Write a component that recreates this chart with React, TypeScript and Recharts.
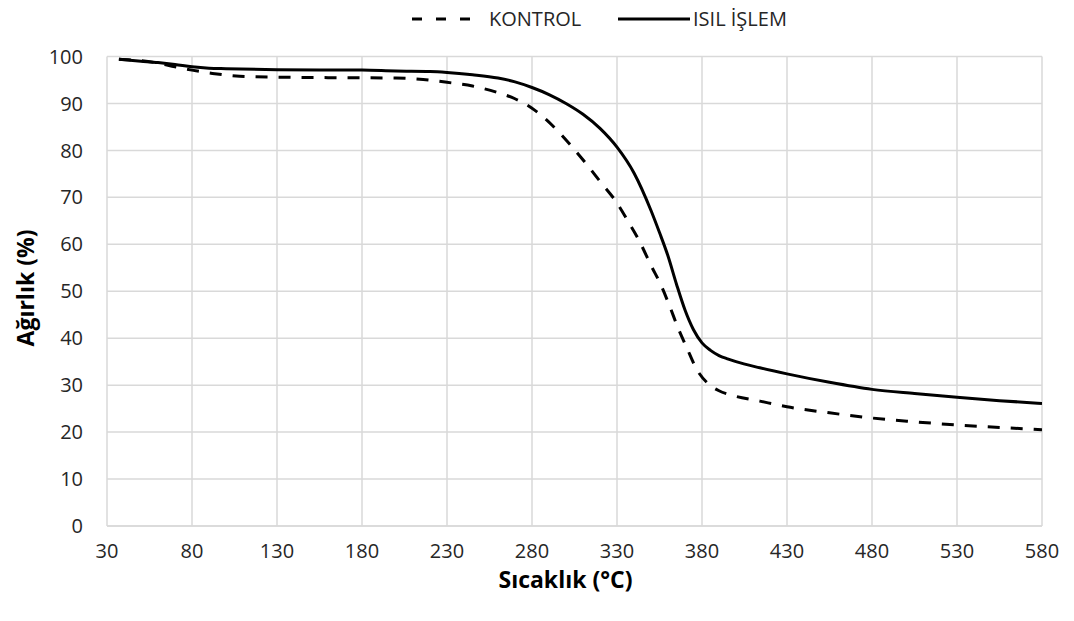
import React from 'react';
import { LineChart, Line, XAxis, YAxis, CartesianGrid, Legend, Label } from 'recharts';

const xTicks = [30, 80, 130, 180, 230, 280, 330, 380, 430, 480, 530, 580];
const yTicks = [0, 10, 20, 30, 40, 50, 60, 70, 80, 90, 100];

const kontrolTemp = [37, 50, 60, 70, 80, 92, 108, 130, 160, 200, 216, 230, 245, 259, 270, 280, 292, 302, 312, 320, 330, 336, 343, 350, 356, 361, 366, 371, 377, 384, 390, 397, 414, 430, 455, 480, 505, 530, 555, 580];
const kontrolWeight = [99.4, 99.1, 98.6, 97.8, 97.1, 96.4, 95.8, 95.6, 95.5, 95.4, 95.1, 94.5, 93.7, 92.4, 91.0, 89.0, 85.3, 81.4, 77.1, 73.4, 68.8, 65.2, 60.8, 55.5, 51.2, 46.8, 42.1, 38.0, 33.3, 30.2, 28.8, 27.9, 26.6, 25.4, 24.1, 23.0, 22.2, 21.5, 21.0, 20.5];

const isilTemp = [37, 50, 60, 70, 80, 90, 100, 130, 180, 200, 220, 230, 245, 260, 270, 280, 290, 300, 310, 320, 330, 340, 350, 355, 360, 365, 370, 375, 380, 385, 390, 395, 400, 414, 430, 455, 480, 505, 530, 555, 580];
const isilWeight = [99.4, 99.0, 98.7, 98.3, 97.8, 97.5, 97.4, 97.2, 97.1, 96.9, 96.8, 96.6, 96.1, 95.4, 94.6, 93.4, 91.9, 90.0, 87.7, 84.7, 80.7, 75.2, 67.2, 62.5, 57.5, 51.5, 46.0, 41.8, 39.0, 37.4, 36.3, 35.6, 35.0, 33.7, 32.4, 30.6, 29.1, 28.2, 27.4, 26.7, 26.1];

const kontrolData = kontrolTemp.map((t, i) => ({ t, w: kontrolWeight[i] }));
const isilData = isilTemp.map((t, i) => ({ t, w: isilWeight[i] }));

const FONT = '"Open Sans", sans-serif';

const LegendContent = () => (
  <div style={{ position: 'relative', width: 1066, height: 22, fontFamily: FONT, fontSize: 20, color: '#262626' }}>
    <svg style={{ position: 'absolute', left: 404, top: 0 }} width={72} height={22}>
      <line x1={0} y1={11} x2={72} y2={11} stroke="#000" strokeWidth={3} strokeDasharray="10 14" />
    </svg>
    <span style={{ position: 'absolute', left: 481, top: -3, lineHeight: '27px', whiteSpace: 'nowrap' }}>KONTROL</span>
    <svg style={{ position: 'absolute', left: 610, top: 0 }} width={72} height={22}>
      <line x1={0} y1={11} x2={72} y2={11} stroke="#000" strokeWidth={3} />
    </svg>
    <span style={{ position: 'absolute', left: 685, top: -3, lineHeight: '27px', whiteSpace: 'nowrap' }}>ISIL İŞLEM</span>
  </div>
);

export default function App() {
  return (
    <div style={{ width: 1066, height: 613, position: 'relative' }}>
      <LineChart width={1066} height={613} margin={{ top: 26.5, right: 32, bottom: 0, left: 39 }}>
        <CartesianGrid stroke="#d9d9d9" strokeWidth={1.5} horizontalValues={yTicks} verticalValues={xTicks} />
        <XAxis
          type="number"
          dataKey="t"
          domain={[30, 580]}
          ticks={xTicks}
          allowDataOverflow
          height={95}
          axisLine={{ stroke: '#d9d9d9', strokeWidth: 1.5 }}
          tickLine={false}
          tickSize={0}
          tickMargin={18}
          tick={{ fill: '#262626', fontSize: 20, fontFamily: FONT }}
        >
          <Label
            content={(props: any) => {
              const vb = props.viewBox || { x: 99, y: 518, width: 935, height: 95 };
              return (
                <text x={vb.x + vb.width / 2 - 9} y={vb.y + 53} textAnchor="middle" dominantBaseline="central" fontFamily={FONT} fontSize={23} fontWeight="bold" fill="#000">
                  Sıcaklık (°C)
                </text>
              );
            }}
          />
        </XAxis>
        <YAxis
          type="number"
          domain={[0, 100]}
          ticks={yTicks}
          width={60}
          axisLine={false}
          tickLine={false}
          tickSize={0}
          tickMargin={24}
          tick={{ fill: '#262626', fontSize: 20, fontFamily: FONT }}
        >
          <Label
            content={() => (
              <text x={17} y={280} transform="rotate(-90, 17, 280)" textAnchor="middle" dominantBaseline="central" fontFamily={FONT} fontSize={23} fontWeight="bold" fill="#000">
                Ağırlık (%)
              </text>
            )}
          />
        </YAxis>
        <Legend layout="vertical" align="center" verticalAlign="top" wrapperStyle={{ top: 0, left: 0, width: 1066 }} content={() => <LegendContent />} />
        <Line data={kontrolData} dataKey="w" name="KONTROL" type="monotone" stroke="#000" strokeWidth={3} strokeDasharray="12 11" dot={false} activeDot={false} isAnimationActive={false} />
        <Line data={isilData} dataKey="w" name="ISIL İŞLEM" type="monotone" stroke="#000" strokeWidth={3} dot={false} activeDot={false} isAnimationActive={false} />
      </LineChart>
    </div>
  );
}
